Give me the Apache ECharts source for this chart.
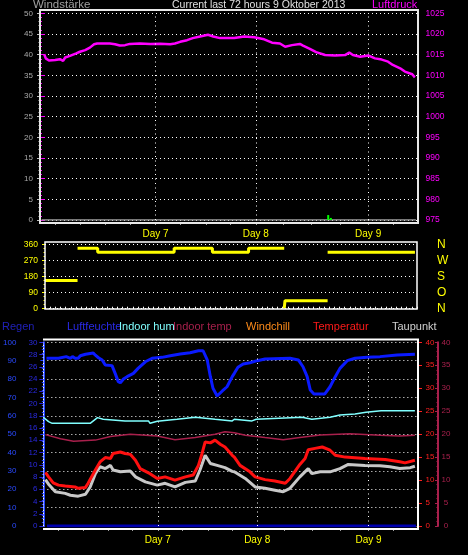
<!DOCTYPE html>
<html><head><meta charset="utf-8">
<script src="https://cdn.jsdelivr.net/npm/echarts@6/dist/echarts.min.js"></script>
<style>html,body{margin:0;padding:0;background:#000}#c{width:468px;height:555px}</style>
</head><body><div id="c"></div>
<script>
// ---- axis labels / ticks (hours since start of the 72 h window) ----
const dayLabels = ['Day 7', 'Day 8', 'Day 9'];
const dayHours = [22.0, 41.1, 62.5];
const tickHours = [2.9, 7.6, 12.4, 17.1, 22.0, 26.7, 31.6, 36.3, 41.1, 46.3, 51.7, 57.1, 62.5, 67.3];
const dirLabels = ['N', 'O', 'S', 'W', 'N'];

// ---- top panel ----
const windT = [0.3, 71.6];
const windV = [0, 0];
const gustT = [54.9, 55.4];
const gustV = [1.2, 0.5];
const pressT = [0.8, 1.1, 1.7, 2.9, 3.8, 4.4, 4.8, 5.7, 6.9, 7.6, 8.6, 9.5, 10.3, 10.9, 13.3, 14.3, 15.2, 16.2, 17.1, 19.0, 21.0, 22.9, 24.8, 25.7, 26.7, 28.0, 29.1, 30.5, 32.0, 33.0, 34.3, 35.8, 37.0, 38.9, 40.8, 42.7, 44.2, 45.7, 46.7, 48.0, 49.5, 50.1, 51.4, 52.6, 54.3, 56.2, 58.1, 58.9, 59.6, 61.0, 62.5, 63.8, 65.1, 66.3, 67.2, 68.6, 69.5, 70.9, 71.4];
const pressV = [1015.1, 1014.1, 1013.6, 1013.7, 1013.9, 1013.5, 1014.3, 1014.7, 1015.3, 1015.7, 1016.1, 1016.7, 1017.5, 1017.7, 1017.7, 1017.5, 1017.2, 1017.3, 1017.6, 1017.7, 1017.6, 1017.65, 1017.5, 1017.7, 1018.1, 1018.5, 1019.0, 1019.4, 1019.8, 1019.4, 1019.0, 1019.0, 1019.0, 1019.4, 1019.2, 1018.7, 1017.9, 1017.7, 1016.9, 1017.3, 1017.6, 1017.2, 1016.4, 1015.6, 1014.9, 1014.8, 1014.9, 1015.5, 1014.9, 1014.5, 1014.8, 1014.1, 1013.8, 1013.3, 1012.5, 1011.7, 1010.9, 1010.25, 1009.5];

// ---- wind direction (start hour of each constant reading) ----
const dirT = [0, 6.3, 10.2, 25.0, 32.4, 39.4, 46.3, 46.45, 54.7];
const dirV = [157.5, 337.5, 315, 337.5, 315, 337.5, 0, 45, 315];
const dirEnd = 71.6;

// ---- bottom panel ----
const regenT = [0.7, 71.6];
const regenV = [0, 0];
const humT = [0.6, 2.9, 3.1, 4.4, 4.6, 5.2, 5.6, 6.1, 6.7, 7.1, 8.1, 9.6, 10.0, 10.6, 11.3, 11.9, 13.2, 13.8, 14.4, 14.8, 15.4, 16.1, 17.3, 18.2, 19.6, 20.9, 22.8, 24.4, 26.3, 28.2, 29.8, 30.7, 31.5, 32.1, 32.6, 33.4, 34.4, 35.3, 36.3, 36.7, 37.4, 38.4, 39.7, 41.1, 42.6, 47.4, 49.0, 49.9, 50.7, 51.3, 52.0, 54.1, 55.1, 56.1, 57.0, 58.4, 59.9, 62.2, 64.7, 68.0, 71.4];
const humV = [91.3, 91.3, 92.2, 92.2, 91.3, 91.3, 92.2, 91.3, 91.3, 92.7, 93.5, 94.2, 93.0, 91.6, 90.4, 87.6, 87.3, 83.1, 78.6, 78.0, 80.0, 81.3, 83.1, 85.8, 89.4, 91.3, 91.8, 92.7, 93.6, 94.3, 95.4, 95.4, 90.4, 81.3, 75.0, 70.8, 73.5, 75.8, 81.3, 83.1, 86.4, 88.2, 88.9, 90.0, 90.9, 91.3, 90.4, 86.7, 81.3, 74.0, 71.9, 71.9, 75.8, 81.3, 85.8, 90.0, 91.3, 91.8, 92.2, 93.1, 93.5];
const inHumT = [0.0, 1.0, 1.7, 9.0, 10.4, 11.5, 15.7, 20.2, 20.5, 21.9, 25.7, 29.2, 33.0, 36.3, 36.7, 40.1, 40.9, 49.7, 51.6, 55.1, 57.0, 59.9, 62.0, 64.9, 71.4];
const inHumV = [59.2, 56.8, 55.9, 55.9, 59.0, 58.1, 57.2, 57.2, 55.9, 57.0, 58.1, 59.2, 58.1, 57.2, 58.1, 57.2, 58.1, 59.2, 58.1, 59.2, 60.4, 61.0, 61.9, 62.8, 62.8];
const inTempT = [0.4, 3.3, 5.8, 10.0, 12.9, 16.7, 21.9, 25.3, 29.2, 33.0, 34.9, 36.7, 38.8, 42.6, 46.1, 49.3, 53.2, 58.9, 64.7, 68.5, 71.4];
const inTempV = [19.9, 19.0, 18.45, 18.7, 19.5, 20.0, 19.6, 18.8, 19.25, 20.0, 20.5, 20.3, 19.75, 19.25, 18.8, 19.25, 19.8, 20.1, 19.75, 19.6, 19.75];
const tempT = [0.4, 1.0, 1.9, 2.9, 4.2, 6.1, 6.7, 8.1, 8.6, 10.0, 10.9, 11.9, 12.9, 13.4, 14.8, 15.7, 16.7, 17.7, 18.6, 20.5, 21.9, 23.4, 25.3, 27.3, 28.8, 29.8, 30.5, 31.1, 32.1, 33.0, 34.0, 34.9, 36.3, 36.7, 37.8, 39.7, 40.7, 42.6, 44.5, 46.5, 47.4, 49.3, 50.3, 50.9, 52.2, 53.6, 55.1, 56.1, 58.0, 61.8, 65.7, 68.5, 69.5, 71.4];
const tempV = [11.65, 10.7, 9.4, 8.9, 8.7, 8.5, 8.2, 8.4, 9.3, 12.2, 13.95, 14.9, 14.7, 15.8, 16.1, 15.8, 15.6, 14.3, 12.5, 11.4, 10.35, 10.7, 10.0, 10.7, 11.1, 13.2, 15.8, 18.3, 18.1, 18.7, 17.8, 17.2, 15.4, 15.0, 13.2, 11.8, 10.7, 10.1, 9.8, 9.3, 10.35, 13.4, 14.7, 16.6, 16.9, 17.2, 16.5, 15.4, 15.0, 14.7, 14.5, 14.0, 13.75, 14.3];
const dewT = [0.4, 1.0, 2.3, 4.2, 5.2, 6.7, 8.1, 9.0, 10.0, 10.9, 11.9, 12.9, 13.4, 14.8, 16.7, 17.7, 19.6, 21.9, 23.4, 25.3, 27.3, 29.2, 30.1, 31.1, 32.1, 33.4, 34.9, 36.3, 36.7, 38.8, 40.7, 42.6, 44.5, 46.1, 47.4, 49.3, 50.9, 51.6, 53.2, 55.1, 57.0, 58.6, 61.8, 64.7, 66.6, 68.5, 70.5, 71.4];
const dewV = [10.1, 9.1, 7.45, 7.1, 6.7, 6.5, 6.9, 8.5, 11.4, 12.9, 12.5, 13.2, 12.2, 11.8, 12.0, 10.7, 9.6, 8.9, 9.3, 8.5, 9.5, 9.8, 12.2, 15.4, 13.6, 13.2, 12.7, 11.9, 11.8, 10.35, 8.5, 8.2, 7.8, 7.45, 8.2, 10.7, 12.5, 11.4, 11.8, 11.8, 12.5, 13.4, 13.2, 13.1, 12.9, 12.5, 12.7, 13.0];

// ---- build ----
const pair = (T, V) => T.map((t, i) => [t, V[i]]);
const dirData = [];
for (let i = 0; i < dirT.length; i++) {
  const t0 = dirT[i], t1 = i + 1 < dirT.length ? dirT[i + 1] : dirEnd;
  if (i > 0 && Math.abs(dirV[i] - dirV[i - 1]) >= 180) dirData.push([t0, '-']);
  dirData.push([t0, dirV[i]], [t1, dirV[i]]);
}

const FF = 'Liberation Sans';
const dotted = { color: '#ffffff', width: 1, type: [1, 3] };
const dayLines = {
  silent: true, symbol: ['none', 'none'], label: { show: false },
  lineStyle: { color: '#ffffff', width: 1, type: [1, 3.5], opacity: 1 },
  data: dayHours.map(h => ({ xAxis: h }))
};

function tickAxis(grid, offset, len) {
  return { type: 'value', gridIndex: grid, min: 0, max: 72, position: 'bottom', offset: offset,
    axisLine: { show: false, onZero: false },
    axisTick: { show: true, customValues: tickHours, length: len, lineStyle: { color: '#a0a0a0', width: 1 } },
    axisLabel: { show: false }, splitLine: { show: false } };
}
function dayAxis(grid) {
  return { type: 'value', gridIndex: grid, min: 0, max: 72, position: 'bottom',
    axisLine: { show: false, onZero: false },
    axisTick: { show: false, customValues: dayHours },
    axisLabel: { show: true, customValues: dayHours, formatter: v => dayLabels[dayHours.indexOf(v)],
      color: '#ffff00', fontSize: 10, margin: 9, fontFamily: FF },
    splitLine: { show: false } };
}
function label(x, y, text, color, size) {
  return { type: 'text', z: 60, style: { x: x, y: y, text: text, fill: color, fontSize: size, fontFamily: FF, verticalAlign: 'middle' } };
}

const option = {
  backgroundColor: '#000000',
  animation: false,
  textStyle: { fontFamily: FF },
  grid: [
    { left: 40, right: 50, top: 13.3, bottom: 335 },
    { left: 45, right: 51, top: 244.3, bottom: 246.3 },
    { left: 43, right: 50, top: 342.3, bottom: 29 }
  ],
  xAxis: [
    tickAxis(0, 2.5, 2.5),
    dayAxis(0),
    { type: 'value', gridIndex: 1, min: 0, max: 72, interval: 1, position: 'bottom',
      axisLine: { show: false, onZero: false },
      axisTick: { show: true, inside: true, length: 2, lineStyle: { color: '#ffffff' } },
      axisLabel: { show: false }, splitLine: { show: false } },
    tickAxis(2, 3, 2),
    dayAxis(2)
  ],
  yAxis: [
    { type: 'value', gridIndex: 0, position: 'left', min: 0, max: 50, interval: 5,
      axisLine: { show: false },
      axisTick: { show: true, length: 3, lineStyle: { color: '#c0c0c0' } },
      minorTick: { show: true, splitNumber: 5, length: 1.5, lineStyle: { color: '#c0c0c0' } },
      axisLabel: { color: '#a8a8a8', fontSize: 8, margin: 7 },
      splitLine: { show: true, lineStyle: dotted } },
    { type: 'value', gridIndex: 0, position: 'right', min: 975, max: 1025, interval: 5,
      axisLine: { show: false },
      axisTick: { show: true, length: 5, lineStyle: { color: '#ff00ff' } },
      minorTick: { show: true, splitNumber: 5, length: 2, lineStyle: { color: '#ff00ff' } },
      axisLabel: { color: '#ff00ff', fontSize: 8.5, margin: 7.5, formatter: v => String(v) },
      splitLine: { show: false } },
    { type: 'value', gridIndex: 1, position: 'left', min: 0, max: 360, interval: 90,
      axisLine: { show: false },
      axisTick: { show: true, length: 3, lineStyle: { color: '#ffff00' } },
      minorTick: { show: true, splitNumber: 4, length: 1.5, lineStyle: { color: '#ffff00' } },
      axisLabel: { color: '#ffff00', fontSize: 8.5, margin: 7 },
      splitLine: { show: true, lineStyle: dotted } },
    { type: 'value', gridIndex: 1, position: 'right', min: 0, max: 360, interval: 90,
      axisLine: { show: false }, axisTick: { show: false },
      axisLabel: { color: '#ffff00', fontSize: 12, margin: 20, formatter: v => dirLabels[v / 90] },
      splitLine: { show: false } },
    { type: 'value', gridIndex: 2, position: 'left', offset: 21, min: 0, max: 100, interval: 10,
      axisLine: { show: true, lineStyle: { color: '#2040ff', width: 2 } },
      axisTick: { show: true, length: 3, lineStyle: { color: '#2040ff' } },
      minorTick: { show: true, splitNumber: 5, length: 1.5, lineStyle: { color: '#2040ff' } },
      axisLabel: { color: '#2a4aff', fontSize: 8, margin: 6 },
      splitLine: { show: true, lineStyle: dotted } },
    { type: 'value', gridIndex: 2, position: 'left', offset: 0, min: 0, max: 30, interval: 2,
      axisLine: { show: true, lineStyle: { color: '#ffffff', width: 1, type: [1, 2] } },
      axisTick: { show: true, length: 4, lineStyle: { color: '#2a2ae0' } },
      axisLabel: { color: '#2a2ae0', fontSize: 8, margin: 6 },
      splitLine: { show: false } },
    { type: 'value', gridIndex: 2, position: 'right', offset: 0, min: 0, max: 40, interval: 5,
      axisLine: { show: false },
      axisTick: { show: true, length: 4, lineStyle: { color: '#ff2020' } },
      axisLabel: { color: '#ff2020', fontSize: 8, margin: 7.5 },
      splitLine: { show: false } },
    { type: 'value', gridIndex: 2, position: 'right', offset: 20, min: 0, max: 40, interval: 5,
      axisLine: { show: true, lineStyle: { color: '#a8204c', width: 2 } },
      axisTick: { show: true, inside: true, length: 3, lineStyle: { color: '#a8204c' } },
      minorTick: { show: true, splitNumber: 5, length: 1.5, lineStyle: { color: '#a8204c' } },
      axisLabel: { color: '#a8204c', fontSize: 8, margin: 8, align: 'center' },
      splitLine: { show: false } }
  ],
  graphic: [
    { type: 'rect', shape: { x: 40, y: 10, width: 378, height: 213 }, style: { fill: 'none', stroke: '#e8e8e8', lineWidth: 2 }, z: 50 },
    { type: 'rect', shape: { x: 45, y: 242, width: 372, height: 67 }, style: { fill: 'none', stroke: '#ffffff', lineWidth: 1.5 }, z: 50 },
    { type: 'polyline', shape: { points: [[43, 339.5], [418, 339.5], [418, 529], [43, 529]] }, style: { fill: 'none', stroke: '#ffffff', lineWidth: 2 }, z: 50 },
    label(33, 5, 'Windstärke', '#a0a0a0', 11.5),
    label(172, 5, 'Current last 72 hours 9 Oktober 2013', '#e0e0e0', 10.5),
    label(372, 5, 'Luftdruck', '#ff00ff', 11),
    label(2, 327, 'Regen', '#2020b8', 11),
    label(67, 327, 'Luftfeuchte', '#2a2ae8', 11),
    label(119, 327, 'Indoor hum', '#80ffff', 11),
    label(173, 327, 'Indoor temp', '#a8204c', 11),
    label(246, 327, 'Windchill', '#ff8c1a', 11),
    label(313, 327, 'Temperatur', '#ff1a1a', 11),
    label(392, 327, 'Taupunkt', '#d0d0d0', 11)
  ],
  series: [
    { name: 'Windstärke', type: 'line', xAxisIndex: 0, yAxisIndex: 0, data: pair(windT, windV), symbol: 'none', lineStyle: { color: '#a0a0a0', width: 1.5 }, z: 3, markLine: dayLines },
    { name: 'Böen', type: 'bar', xAxisIndex: 0, yAxisIndex: 0, data: pair(gustT, gustV), barWidth: 2, itemStyle: { color: '#00ff00' }, z: 4 },
    { name: 'Luftdruck', type: 'line', xAxisIndex: 0, yAxisIndex: 1, data: pair(pressT, pressV), symbol: 'none', lineStyle: { color: '#ff00ff', width: 2.5 }, z: 3 },
    { name: 'Windrichtung', type: 'line', xAxisIndex: 2, yAxisIndex: 2, data: dirData, symbol: 'none', connectNulls: false, lineStyle: { color: '#ffff00', width: 3 }, z: 3 },
    { name: 'Regen', type: 'line', xAxisIndex: 3, yAxisIndex: 4, data: pair(regenT, regenV), symbol: 'none', lineStyle: { color: '#0000b0', width: 3 }, z: 3, markLine: dayLines },
    { name: 'Indoor hum', type: 'line', xAxisIndex: 3, yAxisIndex: 4, data: pair(inHumT, inHumV), symbol: 'none', lineStyle: { color: '#80ffff', width: 1.5 }, z: 3 },
    { name: 'Indoor temp', type: 'line', xAxisIndex: 3, yAxisIndex: 7, data: pair(inTempT, inTempV), symbol: 'none', lineStyle: { color: '#a8204c', width: 1.5 }, z: 3 },
    { name: 'Luftfeuchte', type: 'line', xAxisIndex: 3, yAxisIndex: 4, data: pair(humT, humV), symbol: 'none', lineStyle: { color: '#0a1aff', width: 3 }, z: 3 },
    { name: 'Taupunkt', type: 'line', xAxisIndex: 3, yAxisIndex: 6, data: pair(dewT, dewV), symbol: 'none', lineStyle: { color: '#c8c8c8', width: 3 }, z: 3 },
    { name: 'Temperatur', type: 'line', xAxisIndex: 3, yAxisIndex: 6, data: pair(tempT, tempV), symbol: 'none', lineStyle: { color: '#ff1010', width: 3 }, z: 4 }
  ]
};
const chart = echarts.init(document.getElementById('c'));
chart.setOption(option);
</script>
</body></html>
